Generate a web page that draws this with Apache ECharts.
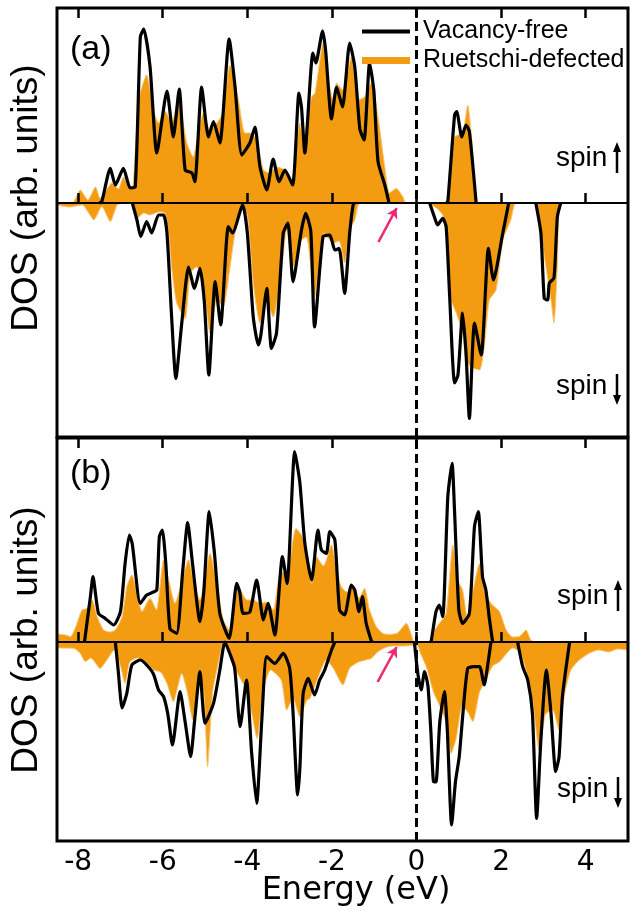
<!DOCTYPE html>
<html>
<head>
<meta charset="utf-8">
<script src="https://cdn.jsdelivr.net/npm/echarts@6/dist/echarts.min.js"></script>
<style>html,body{margin:0;padding:0;background:#fff}#c{width:630px;height:911px}</style>
</head>
<body>
<div id="c"></div>
<script>
// ---------- data (Energy in eV, DOS in arb. units) ----------
const xTicks = [-8, -6, -4, -2, 0, 2, 4];
const seriesNames = ['Vacancy-free', 'Ruetschi-defected'];

// Panel (a) – vacancy-free, spin up (segments)
const aUpVacancy = [
  [[-7.50,0],[-7.44,0.07],[-7.24,1.73],[-7.12,0.9],[-6.93,1.73],[-6.77,0.75],[-6.65,0.8],[-6.53,8.3],[-6.45,8.7],[-6.30,6.8],[-6.14,2.5],[-5.90,5.6],[-5.75,3.3],[-5.61,5.7],[-5.47,1.65],[-5.31,1.5],[-5.24,1.07],[-5.08,5.8],[-4.92,3.3],[-4.80,4.07],[-4.65,3.0],[-4.43,8.2],[-4.29,5.8],[-4.13,2.4],[-3.94,3.0],[-3.82,3.8],[-3.70,1.8],[-3.54,0.65],[-3.39,2.2],[-3.25,1.07],[-3.11,1.65],[-2.93,0.9],[-2.78,5.5],[-2.72,4.8],[-2.64,2.5],[-2.45,7.5],[-2.38,7.0],[-2.22,8.6],[-2.15,7.65],[-2.01,4.2],[-1.89,5.8],[-1.75,4.8],[-1.58,8.0],[-1.46,6.8],[-1.34,3.7],[-1.24,3.15],[-1.11,7.0],[-1.01,5.65],[-0.91,2.07],[-0.75,0.9],[-0.65,0]],
  [[0.70,0],[0.74,0.07],[0.90,4.4],[0.95,4.57],[1.07,3.3],[1.17,3.9],[1.25,3.57],[1.41,0]]
];
// Panel (a) – vacancy-free, spin down (segments)
const aDownVacancy = [
  [[-6.72,0],[-6.61,-0.85],[-6.52,-1.68],[-6.38,-0.93],[-6.26,-1.5],[-6.10,-0.6],[-5.98,-0.6],[-5.90,-1.5],[-5.79,-5.7],[-5.69,-8.77],[-5.55,-6.0],[-5.39,-3.2],[-5.25,-4.27],[-5.12,-3.27],[-5.02,-4.85],[-4.91,-8.6],[-4.76,-3.93],[-4.63,-6.1],[-4.45,-1.18],[-4.35,-1.5],[-4.11,-0.1],[-4.00,-1.5],[-3.86,-5.7],[-3.74,-7.1],[-3.68,-6.6],[-3.54,-4.27],[-3.43,-7.27],[-3.31,-6.5],[-3.15,-1.5],[-3.04,-1.0],[-2.92,-3.93],[-2.72,-1.35],[-2.62,-0.52],[-2.50,-1.4],[-2.41,-6.2],[-2.21,-1.68],[-2.05,-1.6],[-1.93,-2.35],[-1.83,-2.27],[-1.70,-4.52],[-1.58,-1.5],[-1.50,-0.1],[-1.47,0]],
  [[0.31,0],[0.42,-0.68],[0.50,-1.1],[0.62,-0.77],[0.70,-1.18],[0.78,-4.5],[0.90,-9.0],[0.98,-8.6],[1.09,-5.5],[1.17,-7.5],[1.25,-10.77],[1.37,-6.0],[1.53,-7.6],[1.70,-2.27],[1.82,-3.85],[2.04,-1.5],[2.18,0]],
  [[2.82,0],[2.94,-1.5],[3.02,-4.77],[3.10,-4.85],[3.14,-4.0],[3.25,-3.75],[3.33,-0.68],[3.41,0]]
];
// Panel (a) – Ruetschi-defected, spin up
const aUpDefect = [[-8.5,0],[-8.14,0],[-7.95,0.65],[-7.77,0.15],[-7.59,0.8],[-7.48,0.23],[-7.35,0.6],[-7.20,1.0],[-7.05,0.7],[-6.93,1.3],[-6.78,0.75],[-6.70,0.9],[-6.57,5.15],[-6.38,6.4],[-6.22,4.65],[-6.10,4.0],[-5.94,4.57],[-5.79,4.0],[-5.63,5.15],[-5.43,3.0],[-5.28,2.3],[-5.20,3.0],[-5.04,4.5],[-4.88,3.65],[-4.72,4.0],[-4.58,4.5],[-4.41,6.9],[-4.21,5.15],[-4.06,3.5],[-3.94,3.5],[-3.78,3.15],[-3.62,1.65],[-3.47,1.5],[-3.31,1.8],[-3.11,1.65],[-2.95,1.15],[-2.76,4.0],[-2.68,3.15],[-2.48,5.3],[-2.40,5.5],[-2.21,8.0],[-2.09,6.15],[-1.97,5.15],[-1.89,6.0],[-1.75,5.65],[-1.54,7.3],[-1.38,5.15],[-1.23,5.3],[-1.07,6.0],[-0.91,4.3],[-0.75,1.8],[-0.64,0.5],[-0.48,0.73],[-0.32,0.3],[-0.25,0],[0.68,0],[0.90,3.3],[1.09,3.5],[1.21,4.9],[1.33,2.6],[1.45,0],[5,0]];
// Panel (a) – Ruetschi-defected, spin down
const aDownDefect = [[-8.5,-0.1],[-8.2,-0.2],[-7.9,-0.1],[-7.75,-0.5],[-7.63,-0.85],[-7.44,-0.18],[-7.24,-0.93],[-7.08,-0.1],[-6.95,0],[-6.72,0],[-6.60,-0.75],[-6.45,-0.5],[-6.30,-0.6],[-6.10,-0.45],[-5.95,-0.5],[-5.86,-1.5],[-5.79,-3.2],[-5.67,-5.0],[-5.47,-5.77],[-5.35,-3.5],[-5.20,-3.2],[-5.04,-4.0],[-4.88,-6.5],[-4.72,-4.85],[-4.57,-5.18],[-4.41,-3.2],[-4.29,-1.5],[-4.13,-0.2],[-4.00,-0.6],[-3.86,-4.0],[-3.70,-6.0],[-3.54,-4.85],[-3.39,-5.7],[-3.23,-4.0],[-3.07,-1.35],[-2.92,-3.2],[-2.72,-1.85],[-2.60,-1.7],[-2.41,-4.7],[-2.29,-2.85],[-2.19,-1.5],[-1.97,-2.0],[-1.83,-1.9],[-1.70,-3.0],[-1.58,-1.3],[-1.46,-0.85],[-1.38,-0.1],[-1.30,0],[0.25,0],[0.47,-0.25],[0.62,-0.6],[0.70,-1.5],[0.82,-4.85],[0.94,-5.5],[1.09,-6.5],[1.17,-7.85],[1.29,-8.2],[1.49,-8.35],[1.60,-7.2],[1.72,-4.85],[1.88,-4.35],[2.04,-1.85],[2.23,-0.85],[2.35,0],[2.80,0],[2.90,-0.85],[3.06,-3.2],[3.18,-4.85],[3.25,-6.0],[3.33,-3.2],[3.41,0],[5,0]];

// Panel (b) – vacancy-free, spin up (segments)
const bUpVacancy = [
  [[-7.85,0],[-7.71,2.27],[-7.65,3.27],[-7.52,1.43],[-7.36,1.18],[-7.16,0.85],[-7.00,1.52],[-6.89,3.93],[-6.79,5.35],[-6.72,4.9],[-6.53,1.93],[-6.38,2.35],[-6.22,2.5],[-6.14,2.6],[-6.08,5.27],[-6.01,5.6],[-5.93,4.0],[-5.83,0.68],[-5.67,0.43],[-5.53,3.5],[-5.41,5.97],[-5.30,4.0],[-5.12,1.02],[-5.03,2.5],[-4.90,6.52],[-4.78,4.5],[-4.65,1.43],[-4.43,0.18],[-4.25,2.93],[-4.18,2.5],[-4.10,1.43],[-3.94,1.5],[-3.78,3.1],[-3.62,1.1],[-3.51,1.93],[-3.35,0.35],[-3.17,4.27],[-3.06,2.93],[-2.88,9.52],[-2.76,8.0],[-2.64,4.93],[-2.48,3.1],[-2.33,5.6],[-2.25,4.6],[-2.13,4.43],[-2.05,5.52],[-1.93,5.1],[-1.82,1.6],[-1.70,1.35],[-1.54,2.85],[-1.46,2.6],[-1.36,1.52],[-1.28,2.27],[-1.19,0.93],[-1.07,0.07],[-1.05,0]],
  [[0.33,0],[0.35,0.07],[0.46,1.52],[0.54,1.85],[0.62,1.27],[0.74,7.27],[0.84,8.93],[0.90,6.5],[1.00,1.6],[1.09,0.93],[1.25,1.43],[1.37,5.77],[1.46,6.52],[1.56,3.27],[1.64,2.6],[1.72,1.2],[1.80,0]]
];
// Panel (b) – vacancy-free, spin down (segments)
const bDownVacancy = [
  [[-7.12,0],[-7.05,-1.5],[-6.96,-3.3],[-6.85,-2.57],[-6.73,-1.15],[-6.53,-0.9],[-6.38,-1.15],[-6.22,-1.6],[-6.10,-2.4],[-5.98,-2.73],[-5.88,-3.6],[-5.77,-5.15],[-5.59,-2.48],[-5.47,-4.0],[-5.34,-5.73],[-5.25,-4.0],[-5.12,-1.48],[-5.00,-4.07],[-4.80,-3.07],[-4.65,-1.4],[-4.53,0],[-4.41,-0.6],[-4.30,-1.3],[-4.17,-4.23],[-4.02,-1.9],[-3.90,-5.5],[-3.78,-8.07],[-3.66,-4.0],[-3.54,-0.73],[-3.35,-1.07],[-3.15,-0.57],[-3.00,-1.3],[-2.92,-3.5],[-2.81,-7.65],[-2.76,-6.4],[-2.68,-2.57],[-2.56,-1.82],[-2.41,-2.65],[-2.29,-1.9],[-2.17,-1.4],[-2.01,-0.4],[-1.93,0]],
  [[-0.05,0],[0.03,-1.57],[0.11,-2.4],[0.19,-1.48],[0.27,-2.2],[0.34,-4.5],[0.40,-6.98],[0.46,-7.0],[0.55,-4.0],[0.66,-2.48],[0.73,-4.5],[0.83,-9.15],[0.92,-7.0],[1.01,-5.73],[1.10,-3.5],[1.21,-1.32],[1.35,-1.23],[1.49,-1.23],[1.60,-2.15],[1.68,-1.2],[1.76,0]],
  [[2.39,0],[2.51,-1.23],[2.63,-1.9],[2.74,-3.57],[2.84,-8.82],[2.94,-4.9],[3.07,-1.4],[3.18,-3.57],[3.29,-6.48],[3.37,-5.73],[3.45,-2.73],[3.62,0]]
];
// Panel (b) – Ruetschi-defected, spin up
const bUpDefect = [[-8.5,0.4],[-8.3,0.35],[-8.18,0.27],[-8.05,0.8],[-7.91,1.6],[-7.79,1.68],[-7.67,2.1],[-7.55,1.27],[-7.40,0.6],[-7.25,0.5],[-7.12,0.6],[-6.96,1.27],[-6.85,2.77],[-6.73,3.35],[-6.61,2.43],[-6.49,1.52],[-6.30,2.18],[-6.15,1.6],[-5.98,4.1],[-5.85,3.0],[-5.71,1.93],[-5.55,3.0],[-5.39,4.1],[-5.25,2.8],[-5.12,2.1],[-4.88,4.43],[-4.72,2.8],[-4.57,1.1],[-4.43,0.6],[-4.21,2.77],[-4.01,2.1],[-3.85,2.1],[-3.70,1.93],[-3.55,2.0],[-3.39,1.6],[-3.23,3.43],[-3.05,3.5],[-2.85,5.68],[-2.72,5.35],[-2.60,4.6],[-2.48,2.93],[-2.37,4.27],[-2.20,3.8],[-2.01,4.85],[-1.89,3.6],[-1.78,2.77],[-1.65,2.5],[-1.50,2.7],[-1.36,2.2],[-1.23,2.68],[-1.11,1.6],[-0.95,0.77],[-0.80,0.43],[-0.64,0.38],[-0.45,0.45],[-0.24,0.93],[-0.13,0.43],[-0.05,0],[0.35,0],[0.43,0.6],[0.54,0.93],[0.70,1.43],[0.86,4.85],[0.97,3.1],[1.09,2.6],[1.21,1.1],[1.33,2.5],[1.49,3.93],[1.60,2.6],[1.76,1.93],[1.96,1.52],[2.12,0.6],[2.27,0.25],[2.43,0.27],[2.59,0.6],[2.70,0.1],[2.80,0],[5,0]];
// Panel (b) – Ruetschi-defected, spin down
const bDownDefect = [[-8.5,-0.3],[-8.10,-0.32],[-7.95,-0.57],[-7.83,-0.98],[-7.70,-0.8],[-7.48,-1.32],[-7.32,-0.9],[-7.15,-0.4],[-7.00,-1.2],[-6.89,-2.07],[-6.78,-1.0],[-6.60,-0.8],[-6.40,-1.0],[-6.22,-1.4],[-6.05,-1.5],[-5.90,-2.07],[-5.75,-2.98],[-5.55,-1.57],[-5.42,-2.5],[-5.29,-3.9],[-5.15,-2.0],[-5.03,-2.5],[-4.94,-6.23],[-4.82,-2.5],[-4.70,-1.2],[-4.56,0],[-4.42,-0.6],[-4.25,-1.5],[-4.02,-2.4],[-3.90,-3.5],[-3.77,-4.82],[-3.62,-2.4],[-3.45,-1.4],[-3.20,-1.9],[-3.07,-3.4],[-2.92,-2.8],[-2.76,-3.73],[-2.59,-2.9],[-2.52,-2.82],[-2.35,-1.9],[-2.13,-0.9],[-1.97,-1.3],[-1.74,-2.15],[-1.58,-1.3],[-1.37,-1.0],[-1.20,-0.9],[-1.07,-0.82],[-0.92,-0.5],[-0.76,-0.3],[-0.57,-0.2],[-0.30,-0.2],[-0.05,-0.15],[0.00,-0.1],[0.10,-0.6],[0.23,-1.23],[0.40,-2.5],[0.55,-3.2],[0.70,-4.0],[0.82,-5.57],[0.94,-4.8],[1.08,-3.2],[1.21,-3.5],[1.33,-3.98],[1.49,-2.5],[1.64,-1.9],[1.80,-1.2],[1.96,-1.0],[2.12,-0.6],[2.27,-0.3],[2.45,-0.5],[2.60,-1.5],[2.75,-3.0],[2.90,-5.4],[3.05,-3.6],[3.22,-3.4],[3.37,-4.4],[3.50,-2.6],[3.65,-1.4],[3.85,-0.9],[4.08,-0.57],[4.30,-0.4],[4.55,-0.5],[4.75,-0.35],[5.00,-0.4]];

// arrows pointing at the small defect states below E_F: [tail, head]
const aArrow = [[-0.90, -1.95], [-0.47, -0.25]];
const bArrow = [[-0.92, -2.0], [-0.47, -0.25]];

// ---------- styles ----------
const ORANGE = '#F39C12';
const BLACK = '#000';
const PINK = '#EE2A6E';
const FONT = 'DejaVu Sans';
const SANS = 'Liberation Sans';

function joinSegments(segs) {
  const out = [];
  segs.forEach((s, i) => {
    if (i > 0) {
      const prev = segs[i - 1];
      out.push([(prev[prev.length - 1][0] + s[0][0]) / 2, '-']);
    }
    s.forEach(p => out.push(p));
  });
  return out;
}

const chart = echarts.init(document.getElementById('c'), null, {renderer: 'canvas'});

const grids = [
  {left: 57, top: 8, width: 571, height: 429, show: true, borderColor: BLACK, borderWidth: 3, backgroundColor: 'transparent', z: 10},
  {left: 57, top: 438, width: 571, height: 403, show: true, borderColor: BLACK, borderWidth: 3, backgroundColor: 'transparent', z: 10}
];

function xAxisFor(gi, pos, labels) {
  return {
    type: 'value', gridIndex: gi, position: pos, min: -8.5, max: 5, z: 10,
    axisLine: {show: false},
    splitLine: {show: false},
    axisTick: {show: true, inside: true, length: 10, customValues: xTicks, lineStyle: {color: BLACK, width: 2.5}},
    axisLabel: {show: labels, customValues: xTicks, margin: 8, color: BLACK, fontFamily: FONT, fontSize: 28, formatter: v => String(v)}
  };
}
function yAxisFor(gi, min, max) {
  return {
    type: 'value', gridIndex: gi, min: min, max: max,
    axisLine: {show: false}, axisTick: {show: false}, axisLabel: {show: false}, splitLine: {show: false}
  };
}

function blackSeries(gi, segs, extraMarks) {
  const s = {
    name: seriesNames[0], type: 'line', xAxisIndex: gi * 2, yAxisIndex: gi,
    data: joinSegments(segs), symbol: 'none', showSymbol: false, smooth: 0.2, connectNulls: false,
    color: BLACK, lineStyle: {color: BLACK, width: 3.2, join: 'round'}, z: 4, silent: true
  };
  if (extraMarks) s.markLine = extraMarks;
  return s;
}
function orangeSeries(gi, data) {
  return {
    name: seriesNames[1], type: 'line', xAxisIndex: gi * 2, yAxisIndex: gi,
    data: data, symbol: 'none', showSymbol: false, smooth: 0.2,
    color: ORANGE, lineStyle: {color: '#F8C572', width: 1},
    areaStyle: {color: ORANGE, opacity: 1, origin: 'auto'}, z: 2, silent: true
  };
}
function marks(arrow) {
  return {
    silent: true, animation: false,
    symbol: ['none', 'none'],
    label: {show: false},
    data: [
      {yAxis: 0, lineStyle: {color: BLACK, width: 1.8, type: 'solid'}},
      {xAxis: 0, lineStyle: {color: BLACK, width: 3, type: [9, 5]}},
      [
        {coord: arrow[0], symbol: 'none', lineStyle: {color: PINK, width: 2.6, type: 'solid'}},
        {coord: arrow[1], symbol: 'arrow', symbolSize: [9, 10]}
      ]
    ]
  };
}

function spinLabel(x, y, up) {
  const ax = x + 61;
  const children = [
    {type: 'text', style: {x: x, y: y, text: 'spin', fontSize: 28, fontFamily: SANS, fill: BLACK, textAlign: 'left', textVerticalAlign: 'middle'}}
  ];
  if (up) {
    children.push({type: 'line', shape: {x1: ax, y1: y + 15, x2: ax, y2: y - 6}, style: {stroke: BLACK, lineWidth: 2.5}});
    children.push({type: 'polygon', shape: {points: [[ax - 4, y - 6], [ax + 4, y - 6], [ax, y - 16]]}, style: {fill: BLACK}});
  } else {
    children.push({type: 'line', shape: {x1: ax, y1: y - 12, x2: ax, y2: y + 9}, style: {stroke: BLACK, lineWidth: 2.5}});
    children.push({type: 'polygon', shape: {points: [[ax - 4, y + 9], [ax + 4, y + 9], [ax, y + 19]]}, style: {fill: BLACK}});
  }
  return {type: 'group', children: children};
}

const option = {
  animation: false,
  backgroundColor: '#fff',
  grid: grids,
  xAxis: [xAxisFor(0, 'bottom', false), xAxisFor(0, 'top', false), xAxisFor(1, 'bottom', true), xAxisFor(1, 'top', false)],
  yAxis: [yAxisFor(0, -11.7, 9.75), yAxisFor(1, -9.95, 10.2)],
  legend: {
    orient: 'vertical', left: 362, top: 19, padding: 0, itemWidth: 48, itemHeight: 14, itemGap: 4,
    selectedMode: false, z: 20,
    textStyle: {color: BLACK, fontFamily: SANS, fontSize: 25, padding: [0, 0, 0, 8]},
    data: [
      {name: seriesNames[0], icon: 'path://M0,0H48V4H0Z', itemStyle: {color: BLACK, borderWidth: 0}},
      {name: seriesNames[1], icon: 'path://M0,0H48V7H0Z', itemStyle: {color: ORANGE, borderWidth: 0}}
    ]
  },
  series: [
    orangeSeries(0, aUpDefect),
    orangeSeries(0, aDownDefect),
    blackSeries(0, aUpVacancy, marks(aArrow)),
    blackSeries(0, aDownVacancy),
    orangeSeries(1, bUpDefect),
    orangeSeries(1, bDownDefect),
    blackSeries(1, bUpVacancy, marks(bArrow)),
    blackSeries(1, bDownVacancy)
  ],
  graphic: [
    {type: 'text', left: 70, top: 33, style: {text: '(a)', fontSize: 34, fontFamily: SANS, fill: BLACK}},
    {type: 'text', left: 70, top: 457, style: {text: '(b)', fontSize: 34, fontFamily: SANS, fill: BLACK}},
    {type: 'text', x: 27, y: 198, rotation: Math.PI / 2, style: {text: 'DOS (arb. units)', fontSize: 37, fontFamily: SANS, fill: BLACK, textAlign: 'center', textVerticalAlign: 'middle'}},
    {type: 'text', x: 27, y: 640, rotation: Math.PI / 2, style: {text: 'DOS (arb. units)', fontSize: 37, fontFamily: SANS, fill: BLACK, textAlign: 'center', textVerticalAlign: 'middle'}},
    {type: 'text', x: 356, y: 891, style: {text: 'Energy (eV)', fontSize: 32, fontFamily: FONT, fill: BLACK, textAlign: 'center', textVerticalAlign: 'middle'}},
    spinLabel(556, 158, true),
    spinLabel(556, 386, false),
    spinLabel(557, 596, true),
    spinLabel(557, 789, false)
  ]
};
chart.setOption(option);
</script>
</body>
</html>
